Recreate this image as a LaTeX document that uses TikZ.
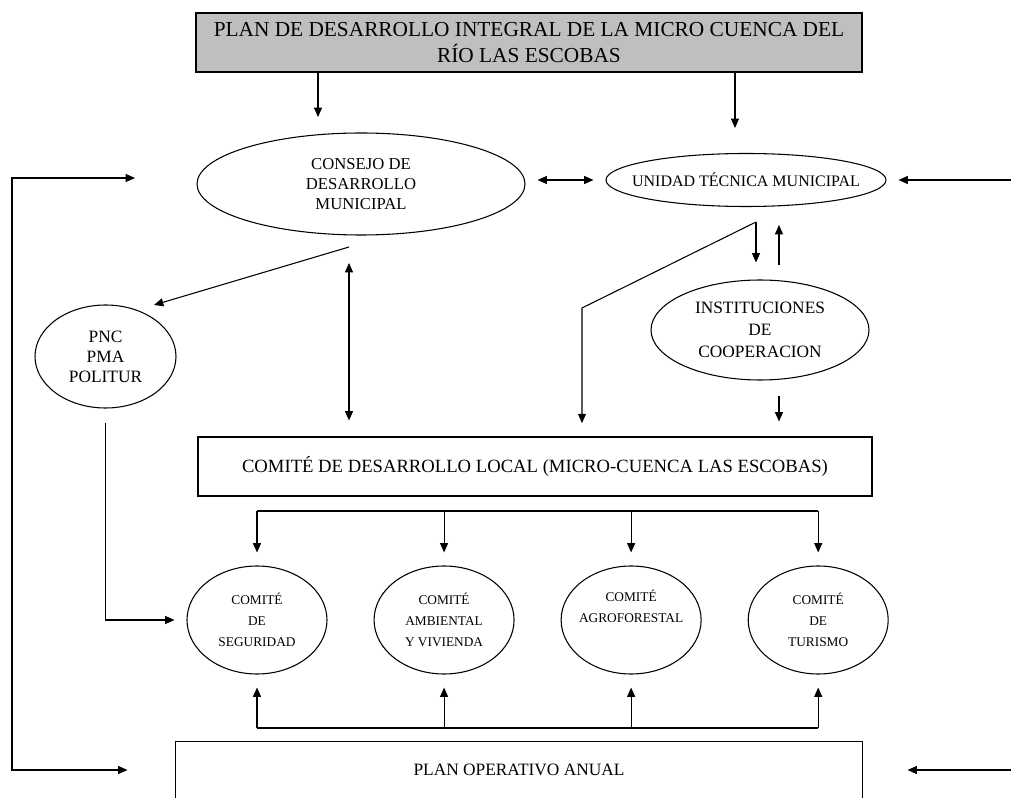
\documentclass[tikz,border=0pt]{standalone}
\usepackage{fontspec}
\setmainfont{Liberation Serif}
\usetikzlibrary{arrows.meta, positioning, calc, shapes.geometric}

\tikzset{
  box/.style={draw, rectangle, inner sep=0pt, align=center},
  oval/.style={draw, ellipse, inner sep=0pt, align=center},
  comite/.style={oval, inner xsep=-3pt, minimum width=105pt, minimum height=81pt, font=\fontsize{10}{16}\selectfont},
}

\begin{document}
\begin{tikzpicture}[x=0.75pt, y=-0.75pt, >={Triangle[length=7pt,width=6pt]}, line width=0.8pt]
  \useasboundingbox (0,0) rectangle (1011,798);
  \node[box, fill=black!25, minimum width=499.5pt, minimum height=44.25pt, font=\fontsize{16}{20}\selectfont] (plan) at (529,42.5) {PLAN DE DESARROLLO INTEGRAL DE LA MICRO CUENCA DEL\\RÍO LAS ESCOBAS};
  \node[oval, minimum width=246pt, minimum height=76.5pt, font=\fontsize{12.5}{15}\selectfont] (consejo) at (361,184) {CONSEJO DE\\DESARROLLO\\MUNICIPAL};
  \node[oval, inner xsep=-12pt, minimum width=210pt, minimum height=39.75pt, font=\fontsize{12}{14}\selectfont] (utm) at (746,180) {UNIDAD TÉCNICA MUNICIPAL};
  \node[oval, minimum width=163.5pt, minimum height=75pt, font=\fontsize{13}{16.5}\selectfont] (inst) at (760,330) {INSTITUCIONES\\DE\\COOPERACION};
  \node[oval, minimum width=105.75pt, minimum height=77.25pt, font=\fontsize{13}{15}\selectfont] (pnc) at (105.5,356.5) {PNC\\PMA\\POLITUR};
  \node[box, minimum width=505.5pt, minimum height=44.25pt, font=\fontsize{14}{16}\selectfont] (cdl) at (535,466.5) {COMITÉ DE DESARROLLO LOCAL (MICRO-CUENCA LAS ESCOBAS)};
  \node[comite] (seg) at (257,620) {COMITÉ\\DE\\SEGURIDAD};
  \node[comite, right=34.5pt of seg] (amb) {COMITÉ\\AMBIENTAL\\Y VIVIENDA};
  \node[comite, right=34.5pt of amb] (agro) {COMITÉ\\AGROFORESTAL\\\strut};
  \node[comite, right=34.5pt of agro] (tur) {COMITÉ\\DE\\TURISMO};
  \node[inner sep=0pt, minimum width=514.5pt, minimum height=42pt, font=\fontsize{13}{15}\selectfont] (poa) at (519,770) {PLAN OPERATIVO ANUAL};
  \draw (poa.south west) -- (poa.north west) -- (poa.north east) -- (poa.south east);

  % free ends
  \coordinate (t1) at (318,117);
  \coordinate (t2) at (735,128);
  \coordinate (r1) at (1011,180);
  \coordinate (r2) at (1011,770);
  \coordinate (c1) at (349,247);
  \coordinate (c2) at (154,305);
  \coordinate (v1) at (349,263);
  \coordinate (u1) at (756,222);
  \coordinate (u2) at (779,225);
  \coordinate (k1) at (582,308);
  \coordinate (d1) at (0,511);
  \coordinate (d2) at (0,728);
  \coordinate (l1) at (12,178);
  \coordinate (l2) at (135,178);

  \draw[->] (plan.south -| t1) -- (t1);
  \draw[->] (plan.south -| t2) -- (t2);
  \draw[<->, shorten <=9pt, shorten >=9pt] (consejo.east |- utm.west) -- (utm.west);
  \draw[->, shorten >=9pt] (r1) -- (utm.east);
  \draw[->] (c1) -- (c2);
  \draw[<->, shorten >=12pt] (v1) -- (v1 |- cdl.north);
  \draw[->, shorten >=12.75pt] (u1) -- (u1 |- inst.north);
  \draw[->, shorten <=11pt] (inst.north -| u2) -- (u2);
  \draw[->, shorten >=10pt] (u1) -- (k1) -- (k1 |- cdl.north);
  \draw[->, shorten <=11.25pt, shorten >=11.25pt] (inst.south -| u2) -- (cdl.north -| u2);
  \draw[->, shorten <=10.5pt, shorten >=9pt] (pnc.south) |- (seg.west);

  \draw (seg.north |- d1) -- (tur.north |- d1);
  \draw (seg.south |- d2) -- (tur.south |- d2);
  \foreach \c in {seg,amb,agro,tur} {
    \draw[->, shorten >=9.75pt] (\c.north |- d1) -- (\c.north);
    \draw[->, shorten >=9.75pt] (\c.south |- d2) -- (\c.south);
  }

  \draw[<->, shorten <=36pt] (poa.west) -| (l1) -- (l2);
  \draw[->, shorten >=33.75pt] (r2) -- (poa.east);
\end{tikzpicture}
\end{document}
